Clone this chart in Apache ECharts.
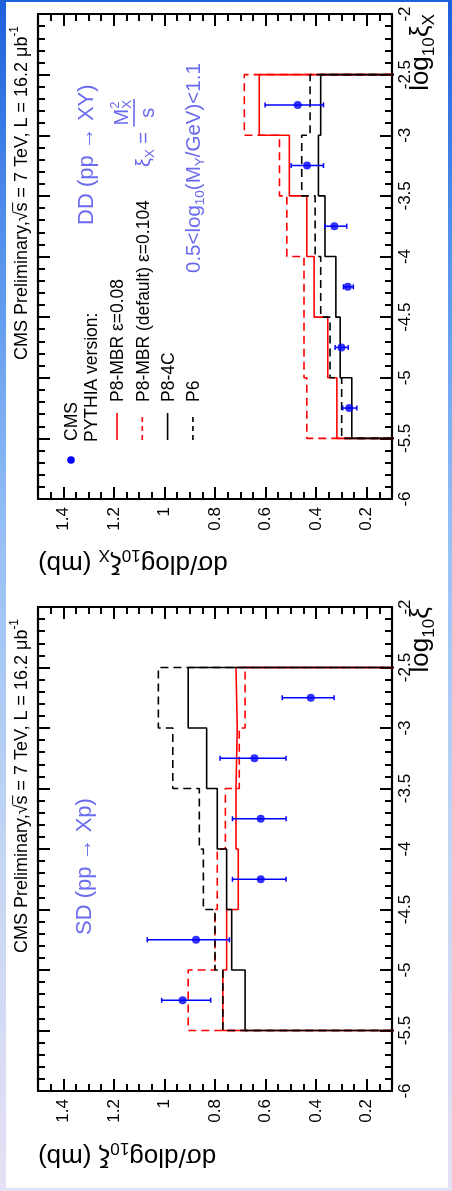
<!DOCTYPE html>
<html>
<head>
<meta charset="utf-8">
<script src="https://cdn.jsdelivr.net/npm/echarts@6.0.0/dist/echarts.min.js"></script>
<style>
  html, body { margin: 0; padding: 0; }
  body {
    width: 452px; height: 1191px; overflow: hidden; position: relative;
    background: linear-gradient(180deg, #1e5fdc 0%, #4d8dec 18%, #96c0f6 45%, #c4d6f3 72%, #e6e0f5 100%);
  }
  #panel { position: absolute; left: 6px; top: 2px; width: 442px; height: 1186px; background: #ffffff; }
  #chart { position: absolute; left: 0; top: 0; width: 452px; height: 1191px; }
</style>
</head>
<body>
<div id="panel"></div>
<div id="chart"></div>
<script>
// ---------------- data ----------------
// bin edges and centres in log10(xi)
const binEdges   = [-5.5, -5, -4.5, -4, -3.5, -3, -2.5];
const binCentres = [-5.25, -4.75, -4.25, -3.75, -3.25, -2.75];

// tick labels of the cross-section axis (mb)
const sigmaTickValues = [0.2, 0.4, 0.6, 0.8, 1.0, 1.2, 1.4];

// DD (pp -> XY): CMS points with errors, and PYTHIA predictions per bin
const ddCms        = [0.269, 0.300, 0.275, 0.328, 0.436, 0.473];
const ddCmsLow     = [0.239, 0.273, 0.253, 0.279, 0.371, 0.371];
const ddCmsHigh    = [0.295, 0.325, 0.292, 0.365, 0.499, 0.602];
const ddMbr008     = [0.318, 0.354, 0.408, 0.437, 0.506, 0.625];
const ddMbrDefault = [0.437, 0.448, 0.448, 0.516, 0.545, 0.684];
const dd4C         = [0.259, 0.305, 0.322, 0.365, 0.391, 0.382];
const ddP6         = [0.299, 0.345, 0.382, 0.404, 0.457, 0.424];

// SD (pp -> Xp)
const sdCms        = [0.928, 0.875, 0.619, 0.619, 0.644, 0.421];
const sdCmsLow     = [0.817, 0.743, 0.519, 0.519, 0.519, 0.329];
const sdCmsHigh    = [1.011, 1.068, 0.731, 0.731, 0.780, 0.534];
const sdMbr008     = [0.769, 0.754, 0.708, 0.717, 0.712, 0.717];
const sdMbrDefault = [0.906, 0.800, 0.791, 0.759, 0.704, 0.681];
const sd4C         = [0.681, 0.734, 0.754, 0.791, 0.833, 0.906];
const sdP6         = [0.769, 0.800, 0.846, 0.862, 0.967, 1.024];

// legend entries
const legendNames = ['P8-MBR \u03b5=0.08', 'P8-MBR (default) \u03b5=0.104', 'P8-4C', 'P6'];

// ---------------- styling ----------------
const FONT = '"Liberation Sans", Arial, Helvetica, sans-serif';
const RED = '#ff0000', BLACK = '#000000', CMS_BLUE = '#0000ff', LABEL_BLUE = '#6a6aee';
const DASH = [8, 5];
const UP = Math.PI / 2, FLIP = Math.PI;

const styles = [
  { color: RED,   type: 'solid' },
  { color: RED,   type: DASH },
  { color: BLACK, type: 'solid' },
  { color: BLACK, type: DASH }
];

// ---------------- helpers ----------------
const mctx = document.createElement('canvas').getContext('2d');
function textWidth(t, fs) { mctx.font = fs + 'px ' + FONT; return mctx.measureText(t).width; }

// text with sub/superscripts, laid out along a baseline and rotated as a group
function mathText(parts, o) {
  const size = o.size, color = o.color || BLACK;
  const items = [];
  let x = 0;
  parts.forEach(p => {
    const [t, kind] = typeof p === 'string' ? [p, ''] : p;
    const small = kind === 'sub' || kind === 'sup';
    const fs = small ? size * 0.66 : size;
    const dy = kind === 'sub' ? size * 0.3 : kind === 'sup' ? -size * 0.4 : 0;
    const w = textWidth(t, fs);
    items.push({ t, fs, x, dy, w, kind });
    x += w;
  });
  const W = x;
  const off = o.align === 'right' ? -W : o.align === 'center' ? -W / 2 : 0;
  const children = [];
  items.forEach(it => {
    children.push({
      type: 'text', x: it.x + off, y: it.dy,
      style: { text: it.t, font: it.fs + 'px ' + FONT, fill: color,
               align: 'left', verticalAlign: 'middle', textAlign: 'left', textVerticalAlign: 'middle' }
    });
    if (it.kind === 'ov') {
      children.push({ type: 'line', shape: { x1: it.x + off, y1: -size * 0.52, x2: it.x + off + it.w, y2: -size * 0.52 },
                      style: { stroke: color, lineWidth: 1 } });
    }
  });
  return { type: 'group', x: o.x, y: o.y, rotation: o.rot || 0, children };
}

// xi_X = M_X^2 / s
function xiFormula(x, y, size, color) {
  const g = mathText(['\u03be', ['X', 'sub'], ' = '], { x: 0, y: 0, size, color });
  const w1 = textWidth('\u03be', size) + textWidth('X', size * 0.66) + textWidth(' = ', size);
  const wM = textWidth('M', size), ws = size * 0.66, wFrac = wM + textWidth('X', ws) + 2;
  const f = size + 'px ' + FONT, fsm = ws + 'px ' + FONT;
  const t = (text, tx, ty, font) => ({ type: 'text', x: tx, y: ty,
    style: { text, font, fill: color, align: 'left', verticalAlign: 'middle', textAlign: 'left', textVerticalAlign: 'middle' } });
  const children = g.children.concat([
    t('M', w1 + 1, -size * 1.1, f),
    t('2', w1 + 1 + wM, -size * 1.45, fsm),
    t('X', w1 + 1 + wM, -size * 0.85, fsm),
    { type: 'line', shape: { x1: w1, y1: -size * 0.5, x2: w1 + wFrac, y2: -size * 0.5 }, style: { stroke: color, lineWidth: 1.6 } },
    t('s', w1 + wFrac / 2 - textWidth('s', size) / 2, size * 0.2, f)
  ]);
  return { type: 'group', x, y, rotation: UP, children };
}

// histogram outline: drops to zero at both outer edges
function stepOutline(vals) {
  const pts = [[0, binEdges[0]]];
  vals.forEach((v, i) => { pts.push([v, binEdges[i]], [v, binEdges[i + 1]]); });
  pts.push([0, binEdges[binEdges.length - 1]]);
  return pts;
}

const tickLine = { color: BLACK, width: 2 };
function sigmaAxes(g) {
  const base = { gridIndex: g, type: 'value', min: 0.1, max: 1.5, inverse: true,
                 splitLine: { show: false }, axisLine: { onZero: false, lineStyle: { color: BLACK, width: 2.2 } } };
  const major = { customValues: sigmaTickValues, inside: true, length: 12, lineStyle: tickLine };
  const minor = { inside: true, length: 7, lineStyle: tickLine };
  return [
    Object.assign({}, base, { position: 'bottom', axisTick: major,
      axisLabel: { customValues: sigmaTickValues, rotate: 90, margin: 8, fontSize: 17, color: BLACK, fontFamily: FONT } }),
    Object.assign({}, base, { position: 'bottom', interval: 0.05, axisLine: { show: false }, axisTick: minor, axisLabel: { show: false } }),
    Object.assign({}, base, { position: 'top', axisTick: major, axisLabel: { show: false } }),
    Object.assign({}, base, { position: 'top', interval: 0.05, axisLine: { show: false }, axisTick: minor, axisLabel: { show: false } })
  ];
}
function xiAxes(g) {
  const base = { gridIndex: g, type: 'value', min: -6, max: -2, interval: 0.5,
                 splitLine: { show: false }, axisLine: { onZero: false, lineStyle: { color: BLACK, width: 2.2 } },
                 axisTick: { inside: true, length: 12, lineStyle: tickLine },
                 minorTick: { show: true, splitNumber: 5, length: 7, lineStyle: tickLine } };
  return [
    Object.assign({}, base, { position: 'right',
      axisLabel: { rotate: 90, margin: 5, fontSize: 17, color: BLACK, fontFamily: FONT } }),
    Object.assign({}, base, { position: 'left', axisLabel: { show: false } })
  ];
}

function panelSeries(xIdx, yIdx, cms, lo, hi, preds) {
  const out = [];
  preds.forEach((vals, k) => {
    out.push({ type: 'line', name: legendNames[k], xAxisIndex: xIdx, yAxisIndex: yIdx,
      data: stepOutline(vals), showSymbol: false, symbol: 'none', clip: true, z: 3,
      lineStyle: { color: styles[k].color, width: 1.6, type: styles[k].type } });
  });
  out.push({ type: 'custom', name: 'CMS errors', xAxisIndex: xIdx, yAxisIndex: yIdx, z: 5,
    data: binCentres.map((c, i) => [lo[i], hi[i], c]),
    renderItem(params, api) {
      const a = api.coord([api.value(0), api.value(2)]);
      const b = api.coord([api.value(1), api.value(2)]);
      const st = { stroke: CMS_BLUE, lineWidth: 1.5 };
      const cap = 2.5;
      return { type: 'group', children: [
        { type: 'line', shape: { x1: a[0], y1: a[1], x2: b[0], y2: b[1] }, style: st },
        { type: 'line', shape: { x1: a[0], y1: a[1] - cap, x2: a[0], y2: a[1] + cap }, style: st },
        { type: 'line', shape: { x1: b[0], y1: b[1] - cap, x2: b[0], y2: b[1] + cap }, style: st }
      ] };
    } });
  out.push({ type: 'scatter', name: 'CMS', xAxisIndex: xIdx, yAxisIndex: yIdx, z: 6,
    data: binCentres.map((c, i) => [cms[i], c]), symbol: 'circle', symbolSize: 8,
    itemStyle: { color: CMS_BLUE } });
  return out;
}

// ---------------- text and legend ----------------
const titleParts = ['CMS Preliminary,', '\u221a', ['s', 'ov'], ' = 7 TeV, L = 16.2 \u03bcb', ['-1', 'sup']];
const graphics = [];
[[0, ['X']], [593, []]].forEach(([dy, sub]) => {
  graphics.push(mathText(titleParts, { x: 22, y: 360 + dy, rot: UP, size: 18 }));
  const xiTitle = ['log', ['10', 'sub'], '\u03be'].concat(sub.length ? [['X', 'sub']] : []);
  graphics.push(mathText(xiTitle, { x: 421, y: 14 + dy, rot: UP, size: 26, align: 'right' }));
  const sigTitle = ['d\u03c3/dlog', ['10', 'sub'], '\u03be'].concat(sub.length ? [['X', 'sub']] : []).concat([' (mb)']);
  graphics.push(mathText(sigTitle, { x: 38, y: 563 + dy, rot: FLIP, size: 26, align: 'right' }));
});
graphics.push(mathText(['DD (pp \u2192 XY)'], { x: 87, y: 225, rot: UP, size: 22, color: LABEL_BLUE }));
graphics.push(mathText(['SD (pp \u2192 Xp)'], { x: 85, y: 935, rot: UP, size: 22, color: LABEL_BLUE }));
graphics.push(xiFormula(144, 167, 20, LABEL_BLUE));
graphics.push(mathText(['0.5<log', ['10', 'sub'], '(M', ['Y', 'sub'], '/GeV)<1.1'],
  { x: 194, y: 273, rot: UP, size: 20.5, color: LABEL_BLUE }));

// legend
graphics.push({ type: 'circle', shape: { cx: 71, cy: 460, r: 3.8 }, style: { fill: CMS_BLUE } });
graphics.push(mathText(['CMS'], { x: 72.5, y: 441, rot: UP, size: 17.5 }));
graphics.push(mathText(['PYTHIA version:'], { x: 92.5, y: 442, rot: UP, size: 17.5 }));
legendNames.forEach((name, k) => {
  const x = 117 + 25.3 * k;
  graphics.push({ type: 'line', shape: { x1: x, y1: 440, x2: x, y2: 413 },
    style: { stroke: styles[k].color, lineWidth: 1.6, lineDash: k % 2 ? [5, 4] : null } });
  graphics.push(mathText([name], { x: x + 1.5, y: 402, rot: UP, size: 17.5 }));
});

// ---------------- chart ----------------
const chart = echarts.init(document.getElementById('chart'), null, { renderer: 'canvas' });
chart.setOption({
  animation: false,
  backgroundColor: 'transparent',
  grid: [
    { left: 38, top: 14, width: 354, height: 485 },
    { left: 38, top: 607, width: 354, height: 484 }
  ],
  xAxis: sigmaAxes(0).concat(sigmaAxes(1)),
  yAxis: xiAxes(0).concat(xiAxes(1)),
  series: panelSeries(0, 0, ddCms, ddCmsLow, ddCmsHigh, [ddMbr008, ddMbrDefault, dd4C, ddP6])
    .concat(panelSeries(4, 2, sdCms, sdCmsLow, sdCmsHigh, [sdMbr008, sdMbrDefault, sd4C, sdP6])),
  graphic: { elements: graphics }
});
</script>
</body>
</html>
